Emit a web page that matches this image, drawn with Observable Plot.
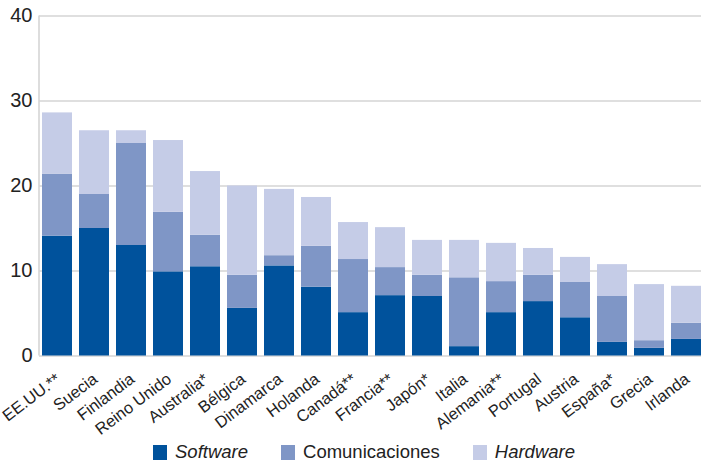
<!DOCTYPE html>
<html>
<head>
<meta charset="utf-8">
<script src="https://cdn.jsdelivr.net/npm/d3@7"></script>
<script src="https://cdn.jsdelivr.net/npm/@observablehq/plot@0.6"></script>
<style>
  body { margin: 0; background: #fff; font-family: "Liberation Sans", Arial, sans-serif; }
  #chart { width: 701px; height: 461px; position: relative; overflow: hidden; }
  .legend { display: flex; align-items: center; padding-left: 153px; margin-top: 3px; font-size: 18.5px; line-height: 18px; color: #222; }
  .legend .item { display: flex; align-items: center; }
  .legend .sw { width: 14px; height: 15px; margin-right: 8px; }
  .legend .item + .item { margin-left: 33px; }
</style>
</head>
<body>
<div id="chart"></div>
<script>
const countries = ["EE.UU.**", "Suecia", "Finlandia", "Reino Unido", "Australia*", "Bélgica", "Dinamarca", "Holanda", "Canadá**", "Francia**", "Japón*", "Italia", "Alemania**", "Portugal", "Austria", "España*", "Grecia", "Irlanda"];
const software       = [14.1, 15.0, 13.0, 9.9, 10.5, 5.6, 10.6, 8.1, 5.1, 7.1, 7.0, 1.1, 5.1, 6.4, 4.5, 1.6, 0.9, 1.95];
const comunicaciones = [7.3, 4.0, 12.0, 7.0, 3.7, 3.9, 1.2, 4.8, 6.25, 3.3, 2.5, 8.1, 3.65, 3.1, 4.15, 5.4, 0.9, 1.9];
const hardware       = [7.2, 7.5, 1.5, 8.45, 7.5, 10.5, 7.8, 5.75, 4.35, 4.7, 4.1, 4.4, 4.5, 3.15, 2.95, 3.75, 6.6, 4.35];
const series = ["Software", "Comunicaciones", "Hardware"];
const seriesItalic = [true, false, true];
const colors = ["#00529c", "#7f96c6", "#c5cce7"];
const yTicks = [0, 10, 20, 30, 40];

const data = countries.flatMap((c, i) => [
  {country: c, serie: series[0], value: software[i]},
  {country: c, serie: series[1], value: comunicaciones[i]},
  {country: c, serie: series[2], value: hardware[i]}
]);

const axisLine = (index, scales, values, dims) => {
  const g = d3.create("svg:g");
  g.append("line")
    .attr("x1", dims.marginLeft).attr("x2", dims.marginLeft)
    .attr("y1", scales.y(40)).attr("y2", scales.y(0))
    .attr("stroke", "#d5d5d5").attr("stroke-width", 1.6);
  return g.node();
};

const plot = Plot.plot({
  width: 701,
  height: 440,
  marginLeft: 39,
  marginRight: -3,
  marginTop: 15.5,
  marginBottom: 84.5,
  style: {fontFamily: "'Liberation Sans', Arial, sans-serif", background: "white", overflow: "visible"},
  x: {domain: countries, paddingInner: 0.19, paddingOuter: 0.081, label: null, axis: null},
  y: {domain: [0, 40], label: null, axis: null},
  color: {domain: series, range: colors},
  marks: [
    Plot.ruleY(yTicks, {stroke: "#d5d5d5", strokeWidth: 1.6}),
    axisLine,
    Plot.barY(data, {x: "country", y: "value", fill: "serie"}),
    Plot.axisY(yTicks, {tickSize: 0, tickPadding: 7, fontSize: 20, fill: "#222", label: null}),
    Plot.text(countries, {
      x: d => d, frameAnchor: "bottom", text: d => d,
      rotate: -37, textAnchor: "end", lineAnchor: "top",
      dx: -3, dy: 16, fontSize: 16.4, fill: "#222"
    })
  ]
});
document.getElementById("chart").appendChild(plot);

const legend = d3.select("#chart").append("div").attr("class", "legend");
series.forEach((s, i) => {
  const item = legend.append("div").attr("class", "item");
  item.append("div").attr("class", "sw").style("background", colors[i]);
  item.append("span").style("font-style", seriesItalic[i] ? "italic" : "normal").text(s);
});
</script>
</body>
</html>
